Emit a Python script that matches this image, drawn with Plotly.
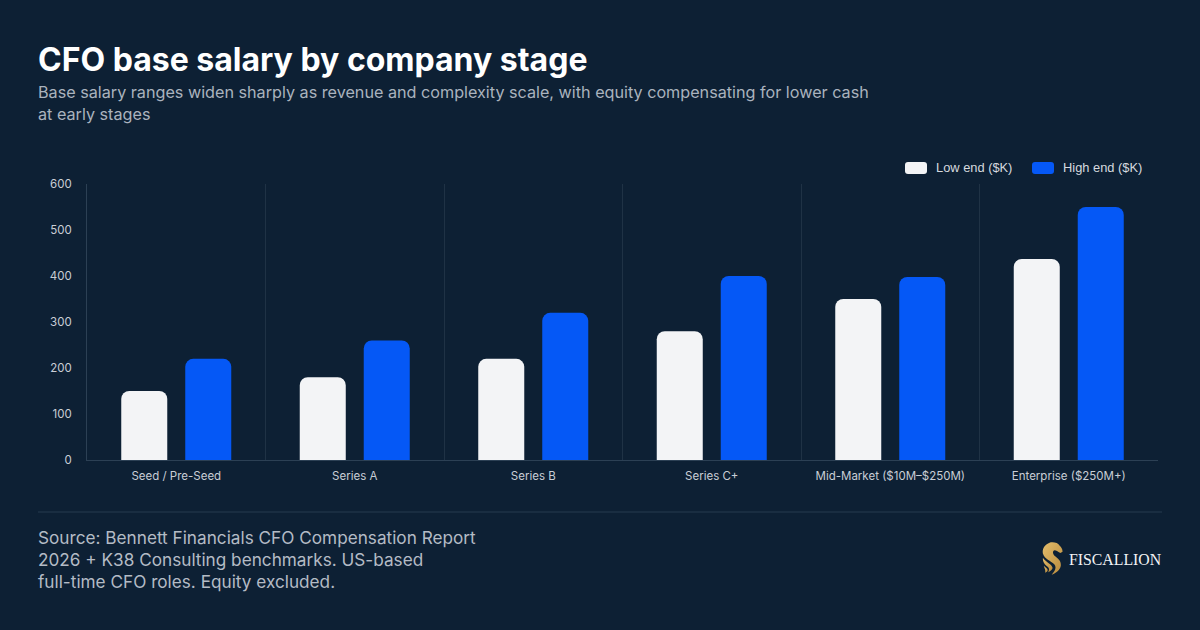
import base64
import plotly.graph_objects as go

categories = ["Seed / Pre-Seed", "Series A", "Series B", "Series C+",
              "Mid-Market ($10M–$250M)", "Enterprise ($250M+)"]
low_end = [150, 180, 220, 280, 350, 437]
high_end = [220, 260, 320, 400, 398, 550]
series_names = ["Low end ($K)", "High end ($K)"]
y_ticks = [0, 100, 200, 300, 400, 500, 600]

title = "CFO base salary by company stage"
subtitle_lines = ["Base salary ranges widen sharply as revenue and complexity scale, with equity compensating for lower cash",
                  "at early stages"]
source_lines = ["Source: Bennett Financials CFO Compensation Report",
                "2026 + K38 Consulting benchmarks. US-based",
                "full-time CFO roles. Equity excluded."]
brand = "FISCALLION"

BG = "#0d2034"
LOW = "#f3f4f6"
HIGH = "#0558f6"
W, H = 1200, 630
L, R, T, B = 87, 1158, 184, 460


def px(x):
    return (x - L) / (R - L)


def py(y):
    return (B - y) / (B - T)


def rounded_rect(x0, y0, x1, y1, r):
    a, b, c, d = px(x0), px(x1), py(y0), py(y1)
    rx, ry = r / (R - L), r / (B - T)
    return (f"M{a + rx},{c} L{b - rx},{c} Q{b},{c} {b},{c - ry} L{b},{d + ry} Q{b},{d} {b - rx},{d} "
            f"L{a + rx},{d} Q{a},{d} {a},{d + ry} L{a},{c - ry} Q{a},{c} {a + rx},{c} Z")


def text(x, y, s, size, color, family="Inter", weight=400, anchor="left"):
    # Annotations carry 2px of internal padding, so the box starts 2px to the left of the glyphs
    return dict(x=px(x - 2), y=py(y), xref="paper", yref="paper", text=s, showarrow=False,
                xanchor=anchor, yanchor="middle", align=anchor,
                font=dict(size=size, color=color, family=family, weight=weight))


# Gold horse-head emblem for the brand mark
emblem = """<svg xmlns='http://www.w3.org/2000/svg' viewBox='0 0 24 38' width='24' height='38'>
<defs><linearGradient id='g' x1='0' y1='0' x2='1' y2='1'>
<stop offset='0' stop-color='#e3bd6b'/><stop offset='1' stop-color='#b98a3c'/></linearGradient></defs>
<path fill='url(#g)' d='M8 1 C13 -0.5 18 1 20 4 C22 6 23.5 8 23.5 11 L21 12.5 C18 11 16 9.5 14.5 9.5
C12 10 12 13 14 15.5 C18 19 22 21 21.5 27 C21 32 15 36 11 37.5 C15 33 17 29 14 25.5 C10 21 3 20 1 13 C0 8 3 3 8 1 Z'/>
<path fill='url(#g)' d='M1 18 C4 23 11 25 12 29 C12.5 31 10 33 7 34.5 C9 31 8 29 5 27 C2.5 25 0.5 22 1 18 Z'/>
<path fill='url(#g)' d='M2 27 C4 29 6.5 30 6.5 32 C6.5 33.5 5 34.5 3.5 35 C4.5 33 3 30 2 27 Z'/>
</svg>"""
emblem_uri = "data:image/svg+xml;base64," + base64.b64encode(emblem.encode()).decode()

fig = go.Figure()
for name, values, color in zip(series_names, [low_end, high_end], [LOW, HIGH]):
    fig.add_bar(x=categories, y=values, name=name, marker=dict(color=color, line_width=0),
                showlegend=False, hovertemplate="%{x}<br>%{y}<extra>" + name + "</extra>")

annotations = [
    text(38, 59, title, 32, "#ffffff", weight=700),
    text(38, 92, subtitle_lines[0], 16.18, "#aab3be"),
    text(38, 114, subtitle_lines[1], 16.18, "#aab3be"),
    text(936, 167, series_names[0], 12.85, "#d5d9df", family="Liberation Sans"),
    text(1063, 167, series_names[1], 12.85, "#d5d9df", family="Liberation Sans"),
    text(1069, 559, brand, 15.8, "#f2f3f5", family="Liberation Serif"),
]
for y, line in zip([537, 559, 581], source_lines):
    annotations.append(text(38, y, line, 17.2, "#b4bbc5"))

shapes = [
    dict(type="path", xref="paper", yref="paper", path=rounded_rect(905, 162, 927, 174, 3),
         fillcolor=LOW, line_width=0),
    dict(type="path", xref="paper", yref="paper", path=rounded_rect(1032, 162, 1054, 174, 3),
         fillcolor=HIGH, line_width=0),
    dict(type="line", xref="paper", yref="paper", x0=px(38), x1=px(1162), y0=py(512), y1=py(512),
         line=dict(color="#263a4f", width=1)),
]

fig.update_layout(
    width=W, height=H, autosize=False,
    margin=dict(l=L, r=W - R, t=T, b=H - B, pad=0),
    paper_bgcolor=BG, plot_bgcolor=BG,
    barmode="group", bargap=0.283, bargroupgap=0.281, barcornerradius=8,
    font=dict(family="Inter", color="#c9ced6", size=12),
    annotations=annotations, shapes=shapes, showlegend=False,
    images=[dict(source=emblem_uri, xref="paper", yref="paper", x=px(1042), y=py(542),
                 sizex=21 / (R - L), sizey=33.25 / (B - T), xanchor="left", yanchor="top", layer="above")],
)
fig.update_xaxes(type="category", tickson="boundaries", ticks="", showgrid=True, gridcolor="#1f3245",
                 gridwidth=1, showline=True, linecolor="#2c4054", linewidth=1,
                 tickfont=dict(size=11.5, color="#c9ced6", family="Inter"), zeroline=False, ticklabelstandoff=5)
fig.update_yaxes(range=[0, 600], tickvals=y_ticks, showgrid=False, showline=True, linecolor="#2c4054",
                 linewidth=1, ticks="", zeroline=False,
                 tickfont=dict(size=11.5, color="#c9ced6", family="Inter"), ticklabelstandoff=12)

fig.write_html("out.html")
